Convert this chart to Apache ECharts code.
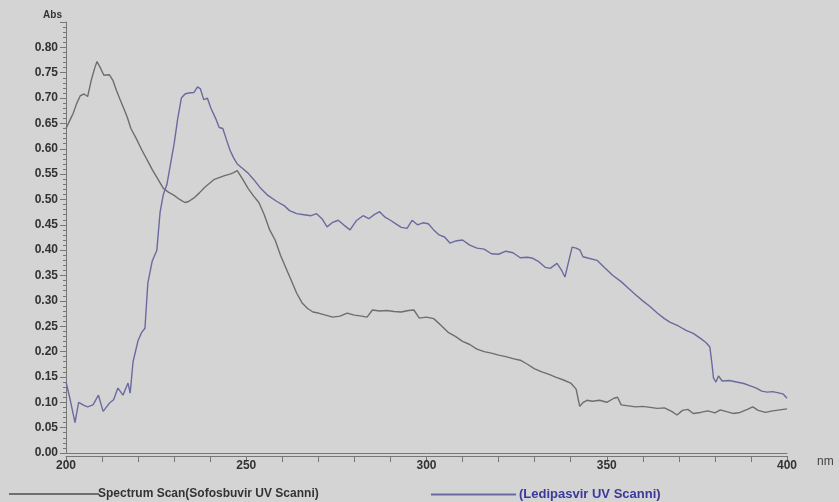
<!DOCTYPE html>
<html>
<head>
<meta charset="utf-8">
<script src="https://cdn.jsdelivr.net/npm/echarts@6/dist/echarts.min.js"></script>
<style>
html,body{margin:0;padding:0;background:#d4d4d4;}
#c{width:839px;height:502px;}
</style>
</head>
<body>
<div id="c"></div>
<script>
var sofName = 'Spectrum Scan(Sofosbuvir UV Scanni)';
var ledName = '(Ledipasvir UV Scanni)';
var xTicks = [200, 250, 300, 350, 400];
var yTicks = [0.00, 0.05, 0.10, 0.15, 0.20, 0.25, 0.30, 0.35, 0.40, 0.45, 0.50, 0.55, 0.60, 0.65, 0.70, 0.75, 0.80];

var sofNm = [200,201,202,203,204,205,206,207,208,208.6,209.5,210.5,212,213,214,215,216,217,218,219.5,221,222.5,224,225.5,227,228.5,230,231.5,233,234,235.5,237,238.5,240,241,242.5,244,245.5,246.5,247.5,249,250.5,252,253.5,255,256.5,258,259.5,261,262.5,264,265.5,267,268.5,270,272,274,276,278,280,282,283.5,285,287,289,291,293,295,296.5,298,300,302,304,306,308,310,312,314,316,318,320,322,324,326,328,330,332,334,336,338,340,341.5,342.5,343.5,344.5,346,348,350,352,353,354,356,358,360,362,364,366,368,369.5,371,372.5,374,376,378,380,381.5,383,385,387,389,390.5,392,394,396,398,400];
var sofAbs = [0.640,0.655,0.670,0.690,0.705,0.708,0.703,0.735,0.760,0.772,0.760,0.745,0.746,0.735,0.715,0.697,0.680,0.662,0.640,0.620,0.598,0.578,0.558,0.540,0.522,0.514,0.508,0.500,0.494,0.496,0.503,0.513,0.524,0.533,0.539,0.543,0.547,0.550,0.553,0.557,0.540,0.522,0.507,0.494,0.470,0.440,0.420,0.390,0.365,0.340,0.315,0.296,0.285,0.278,0.276,0.272,0.268,0.270,0.276,0.272,0.270,0.268,0.282,0.280,0.281,0.279,0.278,0.281,0.282,0.266,0.268,0.265,0.252,0.238,0.230,0.220,0.214,0.205,0.200,0.197,0.193,0.190,0.186,0.183,0.175,0.166,0.160,0.155,0.149,0.144,0.138,0.126,0.092,0.100,0.104,0.102,0.104,0.100,0.108,0.110,0.095,0.093,0.091,0.092,0.090,0.088,0.089,0.082,0.075,0.084,0.086,0.078,0.080,0.083,0.079,0.085,0.082,0.078,0.080,0.086,0.091,0.084,0.080,0.083,0.085,0.087];

var ledNm = [200,201,202.5,203.5,205,206,207.5,209,210.3,212,213.2,214.4,215.8,217.2,217.8,218.6,220,221,221.9,222.7,223.9,225.2,226.1,227,228,229,230,231,232,233,234,235.5,236.5,237.3,238.2,239.2,240.2,241.5,242.5,243.5,244.5,245.5,246.5,247.5,249,250.5,252,254,256,258.5,260.5,262,264,266,268,269.5,271,272.4,274,275.5,277,278.8,280.5,282.4,284,285.5,287,288.5,290,291.5,293,294.6,296,297.5,299,300.5,302,303.5,305,306.5,308,310,312,314,316,318,320,322,324,326,328,329.5,331,333,334.3,336.2,337.5,338.4,339.5,340.4,341.5,342.6,343.4,345,347.3,349.5,351.7,354,356,358,360,362,364,366,367.5,370,372,374,376,377.5,378.6,379.2,379.6,380.3,381,382,384,386,388,390,391.5,393,394.5,396,398,399,400];
var ledAbs = [0.140,0.110,0.060,0.100,0.094,0.091,0.095,0.114,0.082,0.098,0.105,0.128,0.114,0.138,0.118,0.180,0.222,0.238,0.246,0.335,0.378,0.400,0.475,0.510,0.530,0.570,0.610,0.660,0.700,0.708,0.710,0.711,0.722,0.718,0.697,0.700,0.680,0.660,0.642,0.640,0.618,0.597,0.582,0.570,0.561,0.552,0.540,0.522,0.508,0.496,0.488,0.478,0.472,0.470,0.468,0.472,0.462,0.446,0.455,0.459,0.450,0.440,0.458,0.468,0.462,0.470,0.476,0.465,0.459,0.452,0.445,0.443,0.459,0.450,0.454,0.452,0.440,0.430,0.426,0.414,0.418,0.420,0.410,0.404,0.402,0.393,0.392,0.398,0.395,0.385,0.386,0.384,0.378,0.366,0.364,0.374,0.360,0.347,0.380,0.406,0.404,0.400,0.387,0.384,0.380,0.365,0.350,0.338,0.325,0.312,0.300,0.289,0.276,0.265,0.258,0.250,0.242,0.236,0.226,0.218,0.209,0.175,0.148,0.140,0.152,0.142,0.143,0.140,0.137,0.132,0.128,0.122,0.120,0.121,0.118,0.116,0.108];

function pairs(xs, ys){ var out=[]; for (var i=0;i<xs.length;i++) out.push([xs[i], ys[i]]); return out; }

var sofColor = '#6e6e6e';
var ledColor = '#6a6aa0';
var chart = echarts.init(document.getElementById('c'), null, {renderer:'canvas'});
var option = {
  backgroundColor: '#d4d4d4',
  animation: false,
  textStyle: {fontFamily: 'Liberation Sans, Arial, sans-serif'},
  grid: {left: 66, right: 52, top: 22, bottom: 49, containLabel: false},
  legend: [
    {data: [{name: sofName, textStyle: {color: '#333333'}}], left: 4, top: 483, itemWidth: 90, itemHeight: 2, itemGap: 0,
     icon: 'rect', textStyle: {fontSize: 12, fontWeight: 'bold', padding: [0,0,0,-6]}},
    {data: [{name: ledName, textStyle: {color: '#3a3a9a'}}], left: 426, top: 483, itemWidth: 85, itemHeight: 2, itemGap: 0,
     icon: 'rect', textStyle: {fontSize: 13, fontWeight: 'bold', padding: [0,0,0,-2]}}
  ],
  xAxis: [{
    type: 'value', min: xTicks[0], max: xTicks[xTicks.length-1], interval: 50,
    name: 'nm', nameLocation: 'end', nameGap: 30,
    nameTextStyle: {fontSize: 12, color: '#444', verticalAlign: 'top', padding: [3,0,0,0]},
    axisLine: {show: true, onZero: false, lineStyle: {color: '#777', width: 1}},
    axisTick: {show: false},
    axisLabel: {show: false},
    splitLine: {show: false}
  },{
    type: 'value', min: xTicks[0], max: xTicks[xTicks.length-1], interval: 50, position: 'bottom', offset: 3,
    axisLine: {show: true, onZero: false, lineStyle: {color: '#777', width: 1}},
    axisTick: {show: true, length: 6, lineStyle: {color: '#777'}},
    minorTick: {show: true, splitNumber: 5, length: 6, lineStyle: {color: '#777'}},
    axisLabel: {show: true, fontSize: 12, fontWeight: 'bold', color: '#333', margin: 4,
      formatter: function(v){ return xTicks.indexOf(v) >= 0 ? String(v) : ''; }},
    splitLine: {show: false}
  }],
  yAxis: {
    type: 'value', min: 0, max: 0.85, interval: 0.05,
    name: 'Abs', nameLocation: 'end', nameGap: 2,
    nameTextStyle: {fontSize: 10, fontWeight: 'bold', color: '#333', align: 'right', padding: [0,4,0,0]},
    axisLine: {show: true, onZero: false, lineStyle: {color: '#777', width: 1}},
    axisTick: {show: true, length: 6, lineStyle: {color: '#777'}},
    minorTick: {show: true, splitNumber: 5, length: 3, lineStyle: {color: '#777'}},
    axisLabel: {fontSize: 12, fontWeight: 'bold', color: '#333', margin: 8,
      formatter: function(v){
        for (var i=0;i<yTicks.length;i++){ if (Math.abs(yTicks[i]-v) < 1e-6) return yTicks[i].toFixed(2); }
        return '';
      }},
    splitLine: {show: false}
  },
  series: [
    {name: sofName, type: 'line', xAxisIndex: 0, data: pairs(sofNm, sofAbs), showSymbol: false, symbol: 'none',
     lineStyle: {color: sofColor, width: 1.4}, itemStyle: {color: sofColor}},
    {name: ledName, type: 'line', xAxisIndex: 0, data: pairs(ledNm, ledAbs), showSymbol: false, symbol: 'none',
     lineStyle: {color: ledColor, width: 1.4}, itemStyle: {color: ledColor}}
  ]
};
chart.setOption(option);
</script>
</body>
</html>
